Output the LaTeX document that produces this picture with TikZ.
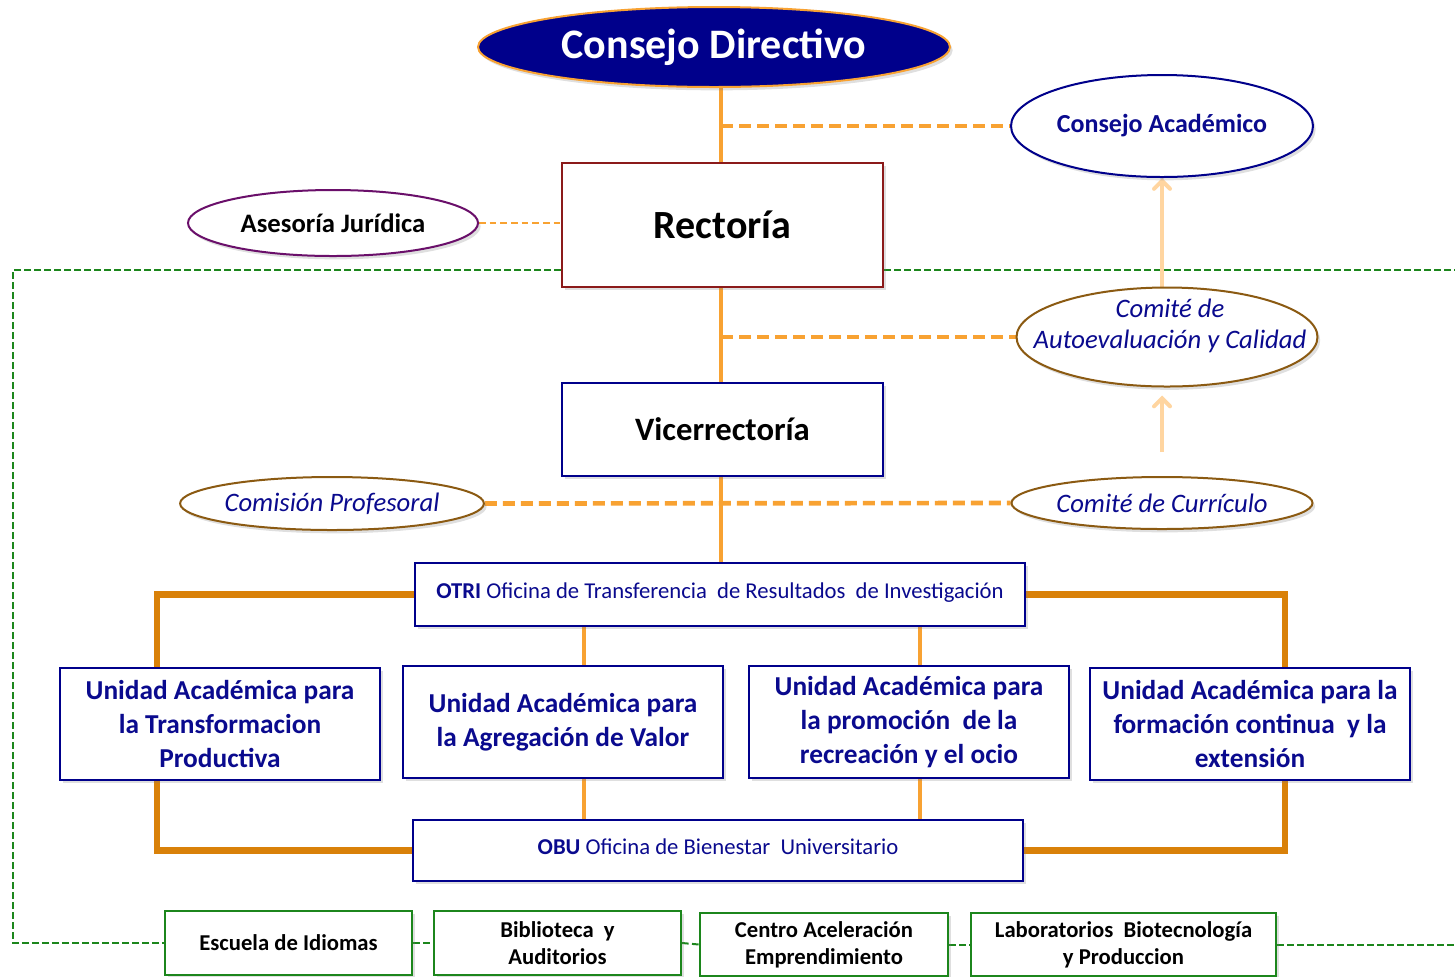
\documentclass[tikz,border=0pt]{standalone}
\usepackage{fontspec}
\setmainfont{Carlito}
\usetikzlibrary{shapes.geometric,arrows.meta,shadows,backgrounds}
\definecolor{navyfill}{HTML}{00008B}
\definecolor{navytxt}{HTML}{0A0A8E}
\definecolor{orl}{HTML}{F8A232}
\definecolor{ord}{HTML}{D98109}
\definecolor{peach}{HTML}{FFD5A0}
\definecolor{dred}{HTML}{8B1A1A}
\definecolor{purp}{HTML}{6A0F6A}
\definecolor{brwn}{HTML}{8B5A12}
\definecolor{grn}{HTML}{1C861C}
\begin{document}
\begin{tikzpicture}[x=0.75pt,y=-0.75pt,
  shd/.style={drop shadow={shadow xshift=2pt,shadow yshift=-2.5pt,opacity=0.25}},
  ell/.style={ellipse,inner sep=0pt,line width=1.5pt,fill=white,shd},
  boxn/.style={rectangle,inner sep=0pt,line width=1.5pt,fill=white,shd,align=center},
  unitbox/.style={boxn,draw=navyfill,minimum width=240pt,minimum height=84pt,text=navytxt,font=\fontsize{20.5}{25.5}\selectfont\bfseries},
  botbox/.style={boxn,draw=grn,minimum height=48pt,font=\fontsize{17}{20.5}\selectfont\bfseries},
  ital/.style={text=navytxt,font=\fontsize{20}{23}\selectfont\itshape},
  oline/.style={draw=orl,line width=3pt},
  othick/.style={draw=ord,line width=5pt},
  odash/.style={draw=orl,line width=3.5pt,dash pattern=on 9pt off 4.5pt},
  othin/.style={draw=orl,line width=1.8pt,dash pattern=on 5pt off 3pt},
  gdash/.style={draw=grn,line width=1.5pt,dash pattern=on 5pt off 2.5pt},
  parrow/.style={draw=peach,line width=3pt,-{Straight Barb[length=6pt,width=12pt,line cap=round]}}
]
\useasboundingbox (0,0) rectangle (1455,976);

% nodes
\node[ell,draw=orl,fill=navyfill,minimum width=354pt,minimum height=60pt,text=white,font=\fontsize{31.5}{36}\selectfont\bfseries] (cd) at (714,47) {Consejo Directivo};
\node[ell,draw=navyfill,minimum width=226.5pt,minimum height=76.5pt,text=navytxt,font=\fontsize{19.5}{24}\selectfont\bfseries] (ca) at (1162,126) {Consejo Académico};
\node[boxn,draw=dred,minimum width=240.75pt,minimum height=93pt,font=\fontsize{30}{36}\selectfont\bfseries] (rec) at (722.5,225) {Rectoría};
\node[ell,draw=purp,minimum width=217.5pt,minimum height=49.5pt,font=\fontsize{20}{24}\selectfont\bfseries] (aj) at (333,223) {Asesoría Jurídica};
\node[ell,draw=brwn,minimum width=225.75pt,minimum height=74.25pt] (cac) at (1167,337) {};
\node[ital,align=center,inner sep=0pt] (cactxt) at (1170,326) {Comité de\\[0pt]Autoevaluación y Calidad};
\node[boxn,draw=navyfill,minimum width=240.75pt,minimum height=69.75pt,font=\fontsize{24.5}{29}\selectfont\bfseries] (vic) at (722.5,429.5) {Vicerrectoría};
\node[ell,draw=brwn,minimum width=226.5pt,minimum height=39.75pt,ital] (cp) at (332,503.5) {Comisión Profesoral};
\node[ell,draw=brwn,minimum width=225.75pt,minimum height=39pt,ital] (cc) at (1162,503) {Comité de Currículo};
\node[boxn,draw=navyfill,minimum width=457.5pt,minimum height=47.25pt,text=navytxt,font=\fontsize{17}{20}\selectfont] (otri) at (720,594.5) {\textbf{OTRI} Oficina de Transferencia\ \ de Resultados\ \ de Investigación\raisebox{0pt}[0pt][6pt]{}};
\node[unitbox] (u1) at (220,724) {Unidad Académica para\\la Transformacion\\Productiva};
\node[unitbox] (u2) at (563,722) {Unidad Académica para\\la Agregación de Valor};
\node[unitbox] (u3) at (909,722) {Unidad Académica para\\la promoción\ \ de la\\recreación y el ocio};
\node[unitbox] (u4) at (1250,724) {Unidad Académica para la\\formación continua\ \ y la\\extensión};
\node[boxn,draw=navyfill,minimum width=457.5pt,minimum height=45.75pt,text=navytxt,font=\fontsize{17}{20}\selectfont] (obu) at (718,850.5) {\textbf{OBU} Oficina de Bienestar\ \ Universitario\raisebox{0pt}[0pt][6pt]{}};
\node[botbox,minimum width=185.25pt] (b1) at (288.5,943) {Escuela de Idiomas};
\node[botbox,minimum width=185.25pt] (b2) at (557.5,943) {Biblioteca\ \ y\\Auditorios};
\node[botbox,minimum width=186pt,minimum height=47.25pt] (b3) at (824,944.5) {Centro Aceleración\\Emprendimiento};
\node[botbox,minimum width=228.75pt,minimum height=47.25pt] (b4) at (1123.5,944.5) {Laboratorios\ \ Biotecnología\\y Produccion};

\coordinate (xs) at (721,0);
\coordinate (xl) at (157,0);
\coordinate (xr) at (1285,0);
\coordinate (x2) at (584,0);
\coordinate (x3) at (920,0);
\coordinate (gl) at (13,270);
\coordinate (gr) at (1455,270);
\coordinate (gbl) at (13,943);
\coordinate (gbr) at (1455,944.5);

\begin{pgfonlayer}{background}
% green dashed frame
\draw[gdash] (rec.east |- gr) -- (gr);
\draw[gdash] (rec.west |- gl) -- (gl) -- (gbl) -- (b1.west);
\draw[gdash] (b1.east) -- (b2.west);
\draw[gdash] (b2.east) -- (b3.west);
\draw[gdash] (b3.east) -- (b4.west);
\draw[gdash] (b4.east) -- (gbr);
% main spine
\draw[oline] (xs |- cd.south) -- (xs |- rec.north);
\draw[odash] (xs |- ca.west) -- (ca.west);
\draw[othin] (aj.east) -- (rec.west |- aj.east);
\draw[oline] (xs |- rec.south) -- (xs |- vic.north);
\draw[odash] (xs |- cac.west) -- (cac.west);
\draw[oline] (xs |- vic.south) -- (xs |- otri.north);
\draw[odash] (cp.east) -- (cc.west);
% peach arrows
\draw[parrow] (ca.south |- cac.north) -- (ca.south);
\draw[parrow,shorten <=18pt,shorten >=6pt] (cc.north) -- (cc.north |- cac.south);
% unit connectors
\draw[othick] (otri.west) -- (otri.west -| xl) -- (xl |- u1.north);
\draw[othick] (otri.east) -- (otri.east -| xr) -- (xr |- u4.north);
\draw[othick] (xl |- u1.south) -- (xl |- obu.west) -- (obu.west);
\draw[othick] (xr |- u4.south) -- (xr |- obu.east) -- (obu.east);
\draw[oline] (x2 |- otri.south) -- (x2 |- u2.north);
\draw[oline] (x3 |- otri.south) -- (x3 |- u3.north);
\draw[oline] (x2 |- u2.south) -- (x2 |- obu.north);
\draw[oline] (x3 |- u3.south) -- (x3 |- obu.north);
\end{pgfonlayer}
\end{tikzpicture}
\end{document}
